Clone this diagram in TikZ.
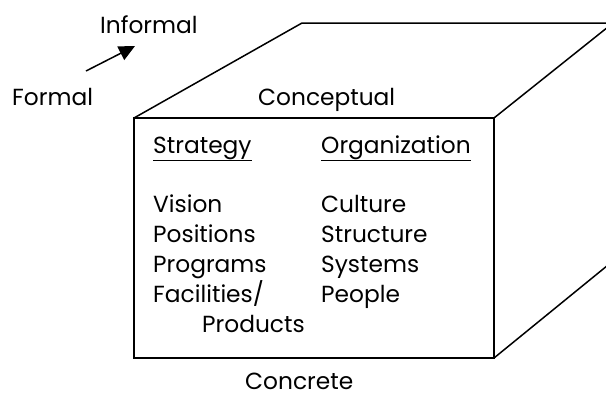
\documentclass[tikz,border=0pt]{standalone}
\usepackage{fontspec}
\setmainfont{Poppins}
\usetikzlibrary{positioning,arrows.meta}

\begin{document}
\begin{tikzpicture}[x=1pt,y=1pt,node distance=30pt,
  lbl/.style={anchor=base west,inner sep=0pt,font=\fontsize{23.3}{27}\selectfont},
  edge/.style={line width=1.5pt,line join=miter}]
\useasboundingbox (0,0) rectangle (606,-394);
% corners of the box
\coordinate (f1) at (134,-118);
\coordinate (f2) at (494,-118);
\coordinate (f3) at (494,-358);
\coordinate (f4) at (134,-358);
\coordinate (b1) at (302,-23);
\coordinate (b2) at (613,-23);
\coordinate (b3) at (613,-261);
\begin{scope}
\clip (0,0) rectangle (606,-394);
\draw[edge] (f1) -- (f2) -- (f3) -- (f4) -- cycle;
\draw[edge] (f1) -- (b1) -- (b2) -- (f2);
\draw[edge] (f3) -- (b3) -- (b2);
\end{scope}
% axis labels
\node[lbl] (inf) at (100,-33) {Informal};
\node[lbl] (frm) at (12,-105) {Formal};
\coordinate (a1) at (86,-71);
\coordinate (a2) at (135,-46);
\draw[line width=1.5pt,-{Triangle[length=16pt,width=15pt]}] (a1) -- (a2);
\node[lbl] (cpt) at (258,-105) {Conceptual};
\node[lbl] (cnc) at (245,-389) {Concrete};
% strategy column
\node[lbl] (str) at (153,-153) {\underline{Strategy}};
\node[lbl] (vis) at (153,-212) {Vision};
\node[lbl,below=of vis.base west,anchor=base west] (pos) {Positions};
\node[lbl,below=of pos.base west,anchor=base west] (prg) {Programs};
\node[lbl,below=of prg.base west,anchor=base west] (fac) {Facilities/};
\node[lbl,below=of fac.base west,anchor=base west,xshift=49pt] (prd) {Products};
% organization column
\node[lbl] (org) at (321,-153) {\underline{Organization}};
\node[lbl] (cul) at (321,-212) {Culture};
\node[lbl,below=of cul.base west,anchor=base west] (stc) {Structure};
\node[lbl,below=of stc.base west,anchor=base west] (sys) {Systems};
\node[lbl,below=of sys.base west,anchor=base west] (ppl) {People};
\end{tikzpicture}
\end{document}
